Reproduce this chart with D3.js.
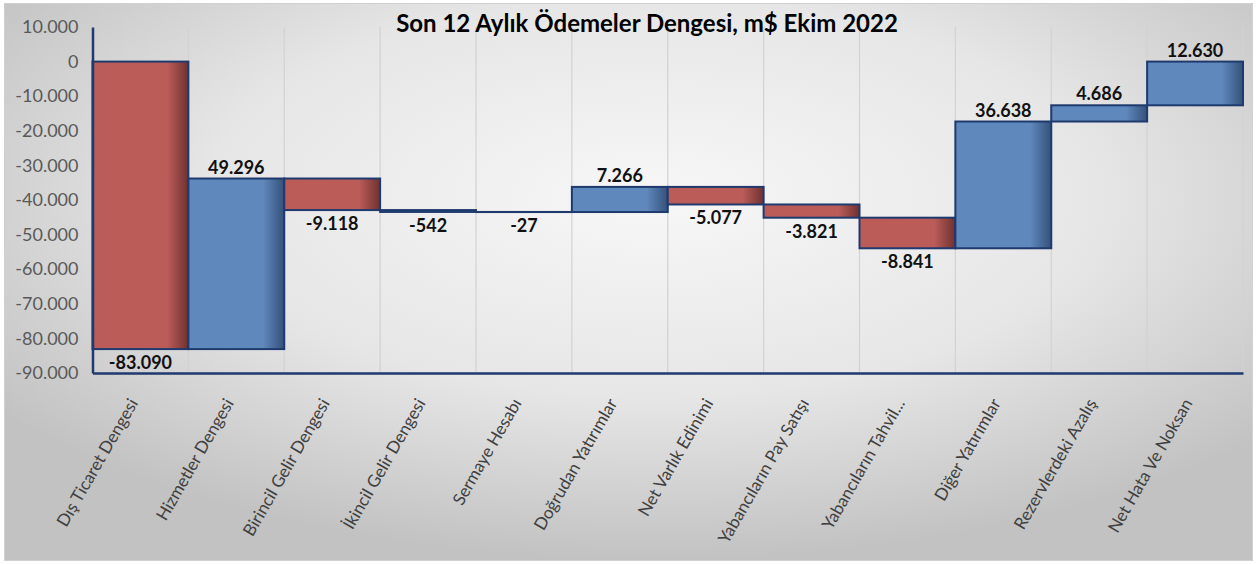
<!DOCTYPE html>
<html>
<head>
<meta charset="utf-8">
<script src="https://cdn.jsdelivr.net/npm/d3@7"></script>
<style>
  html, body { margin: 0; padding: 0; background: #fff; }
  svg { display: block; font-family: Lato, "Open Sans", sans-serif; }
</style>
</head>
<body>
<svg id="chart" width="1257" height="564"></svg>
<script>
const title = 'Son 12 Aylık Ödemeler Dengesi, m$ Ekim 2022';

const categories = [
  'Dış Ticaret Dengesi', 'Hizmetler Dengesi', 'Birincil Gelir Dengesi',
  'İkincil Gelir Dengesi', 'Sermaye Hesabı', 'Doğrudan Yatırımlar',
  'Net Varlık Edinimi', 'Yabancıların Pay Satışı', 'Yabancıların Tahvil...',
  'Diğer Yatırımlar', 'Rezervlerdeki Azalış', 'Net Hata Ve Noksan',
];

const values = [-83090, 49296, -9118, -542, -27, 7266, -5077, -3821, -8841, 36638, 4686, 12630];

const yTicks = [10000, 0, -10000, -20000, -30000, -40000, -50000, -60000, -70000, -80000, -90000];

const makeWaterfall = (id, w, h) => {
  const margin = {
    top: 27, right: 14, bottom: 191, left: 92.5,
  };
  const width = w - margin.left - margin.right;
  const height = h - margin.top - margin.bottom;

  const svg = d3.select(id);
  const defs = svg.append('defs');

  const bg = defs.append('radialGradient')
    .attr('id', 'bg')
    .attr('cx', '52%').attr('cy', '35%').attr('r', '65%');
  bg.append('stop').attr('offset', '0%').attr('stop-color', '#f7f7f7');
  bg.append('stop').attr('offset', '55%').attr('stop-color', '#e6e6e6');
  bg.append('stop').attr('offset', '100%').attr('stop-color', '#c2c2c2');

  const shade = (name, base, dark) => {
    const g = defs.append('linearGradient').attr('id', name)
      .attr('x1', '0%').attr('x2', '100%').attr('y1', '0%').attr('y2', '0%');
    g.append('stop').attr('offset', '0%').attr('stop-color', base);
    g.append('stop').attr('offset', '78%').attr('stop-color', base);
    g.append('stop').attr('offset', '100%').attr('stop-color', dark);
  };
  shade('neg', '#bb5c59', '#6e3130');
  shade('pos', '#5f88bc', '#34517a');

  svg.append('rect')
    .attr('x', 4.5).attr('y', 3.5)
    .attr('width', w - 9).attr('height', h - 7)
    .attr('fill', 'url(#bg)')
    .attr('stroke', '#d0d0d0');

  const chart = svg.append('g')
    .attr('transform', `translate(${margin.left},${margin.top})`);

  const x = d3.scaleBand()
    .domain(categories)
    .range([0, width])
    .padding(0);

  const y = d3.scaleLinear()
    .domain([-90000, 10000])
    .range([height, 0]);

  const loc = d3.formatLocale({
    decimal: ',', thousands: '.', grouping: [3], currency: ['', ''], minus: '-',
  });
  const fmt = loc.format(',d');

  // cumulative steps
  let run = 0;
  const steps = values.map((v, i) => {
    const start = run;
    run += v;
    return {
      name: categories[i], value: v, start, end: run,
    };
  });

  // vertical gridlines at band edges
  chart.append('g')
    .selectAll('line')
    .data(categories)
    .join('line')
    .attr('x1', (d) => x(d) + x.bandwidth())
    .attr('x2', (d) => x(d) + x.bandwidth())
    .attr('y1', 0)
    .attr('y2', height)
    .attr('stroke', '#d2d2d2')
    .attr('stroke-width', 1.2);

  chart.append('text')
    .attr('x', 647 - margin.left)
    .attr('y', 32 - margin.top)
    .attr('text-anchor', 'middle')
    .style('font-size', '24px')
    .style('font-weight', 'bold')
    .attr('fill', '#000')
    .text(title);

  chart.append('g')
    .selectAll('rect')
    .data(steps)
    .join('rect')
    .attr('x', (d) => x(d.name))
    .attr('y', (d) => y(Math.max(d.start, d.end)))
    .attr('width', x.bandwidth())
    .attr('height', (d) => Math.max(0.01, Math.abs(y(d.start) - y(d.end))))
    .attr('fill', (d) => (d.value < 0 ? 'url(#neg)' : 'url(#pos)'))
    .attr('stroke', '#1f3a6e')
    .attr('stroke-width', 2);

  const yAxis = chart.append('g')
    .call(d3.axisLeft(y).tickValues(yTicks).tickFormat(fmt).tickSize(0).tickPadding(14));
  yAxis.select('.domain').attr('stroke', '#1f3a6e').attr('stroke-width', 2.5);
  yAxis.selectAll('text')
    .style('font-size', '18px')
    .style('font-family', 'Lato, sans-serif')
    .attr('fill', '#595959');

  const xAxis = chart.append('g')
    .attr('transform', `translate(0,${height})`)
    .call(d3.axisBottom(x).tickSize(0).tickFormat(''));
  xAxis.select('.domain').attr('stroke', '#1f3a6e').attr('stroke-width', 2.5);

  chart.append('g')
    .selectAll('text')
    .data(categories)
    .join('text')
    .attr('transform', (d) => `translate(${x(d) + x.bandwidth() / 2 - 2},${height + 30}) rotate(-60)`)
    .attr('text-anchor', 'end')
    .style('font-size', '17px')
    .attr('fill', '#404040')
    .text((d) => d);

  chart.append('g')
    .selectAll('text')
    .data(steps)
    .join('text')
    .attr('x', (d) => x(d.name) + x.bandwidth() / 2)
    .attr('y', (d) => (d.value >= 0
      ? y(Math.max(d.start, d.end)) - 5
      : y(Math.min(d.start, d.end)) + 20))
    .attr('text-anchor', 'middle')
    .style('font-size', '18px')
    .style('font-weight', 'bold')
    .attr('fill', '#111')
    .text((d) => fmt(d.value));
};

makeWaterfall('#chart', 1257, 564);
</script>
</body>
</html>
